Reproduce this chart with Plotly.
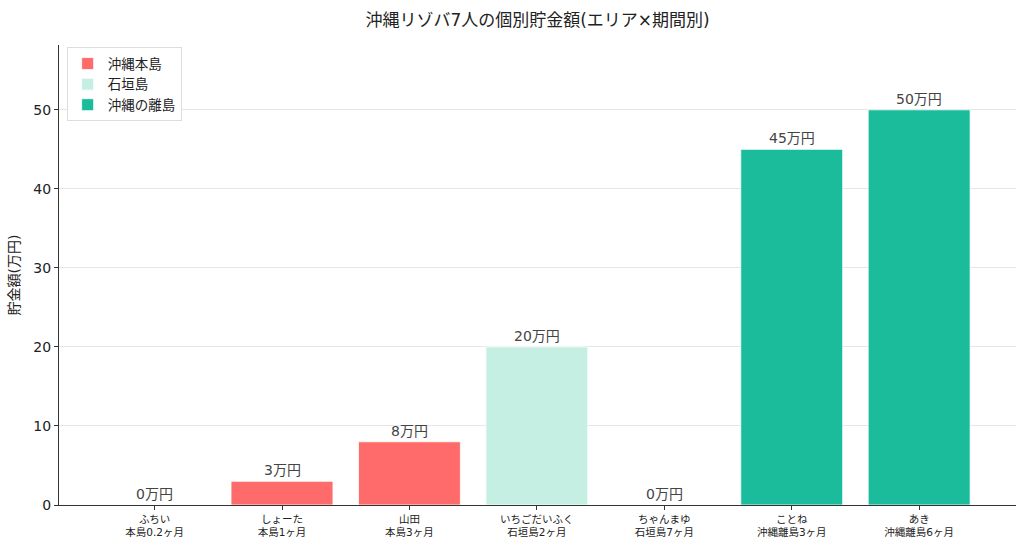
import plotly.graph_objects as go

names = ["ふちい", "しょーた", "山田", "いちごだいふく", "ちゃんまゆ", "ことね", "あき"]
periods = ["本島0.2ヶ月", "本島1ヶ月", "本島3ヶ月", "石垣島2ヶ月", "石垣島7ヶ月", "沖縄離島3ヶ月", "沖縄離島6ヶ月"]
savings = [0, 3, 8, 20, 0, 45, 50]
areas = ["沖縄本島", "沖縄本島", "沖縄本島", "石垣島", "石垣島", "沖縄の離島", "沖縄の離島"]
area_order = ["沖縄本島", "石垣島", "沖縄の離島"]
area_colors = {"沖縄本島": "#FF6B6B", "石垣島": "#C6EFE4", "沖縄の離島": "#1ABC9C"}

FONT = "DejaVu Sans, Noto Sans CJK JP, sans-serif"

fig = go.Figure()
for area in area_order:
    idx = [i for i, a in enumerate(areas) if a == area]
    fig.add_trace(go.Bar(
        x=idx, y=[savings[i] for i in idx], name=area, width=0.8,
        marker=dict(color=area_colors[area], line=dict(color="rgba(255,255,255,0.8)", width=1)),
    ))

for i, v in enumerate(savings):
    fig.add_annotation(x=i, y=v, text=f"{v}万円", showarrow=False, yanchor="bottom",
                       yshift=1, font=dict(size=14, color="#444444", family=FONT))

ticktext = [f"{n}<br>{p}" for n, p in zip(names, periods)]

fig.update_layout(
    width=1024, height=549,
    margin=dict(l=59, r=8, t=45, b=44),
    plot_bgcolor="white", paper_bgcolor="white",
    barmode="overlay",
    font=dict(family=FONT, color="#222222"),
    title=dict(text="沖縄リゾバ7人の個別貯金額(エリア×期間別)", x=0.525, xanchor="center",
               y=0.963, yanchor="middle", font=dict(size=17, color="#222222", family=FONT)),
    legend=dict(x=0.008, y=0.995, xanchor="left", yanchor="top", bgcolor="rgba(255,255,255,0.9)",
                bordercolor="#DDDDDD", borderwidth=1, font=dict(size=13.5, family=FONT),
                itemwidth=30, tracegroupgap=0),
    xaxis=dict(range=[-0.75, 6.76], tickmode="array", tickvals=list(range(len(names))),
               ticktext=ticktext, tickfont=dict(size=10.5, family=FONT, color="#222222"),
               showgrid=False, showline=True, linecolor="#333333", linewidth=1.3,
               ticks="outside", ticklen=4, tickcolor="#333333", zeroline=False),
    yaxis=dict(range=[0, 58.2], tickvals=[0, 10, 20, 30, 40, 50],
               tickfont=dict(size=14, family=FONT, color="#222222"),
               title=dict(text="貯金額(万円)", font=dict(size=14, family=FONT), standoff=10),
               showgrid=True, gridcolor="#E6E6E6", gridwidth=1,
               showline=True, linecolor="#333333", linewidth=1.3,
               ticks="outside", ticklen=4, tickcolor="#333333", zeroline=False),
)

fig.write_html("out.html")
